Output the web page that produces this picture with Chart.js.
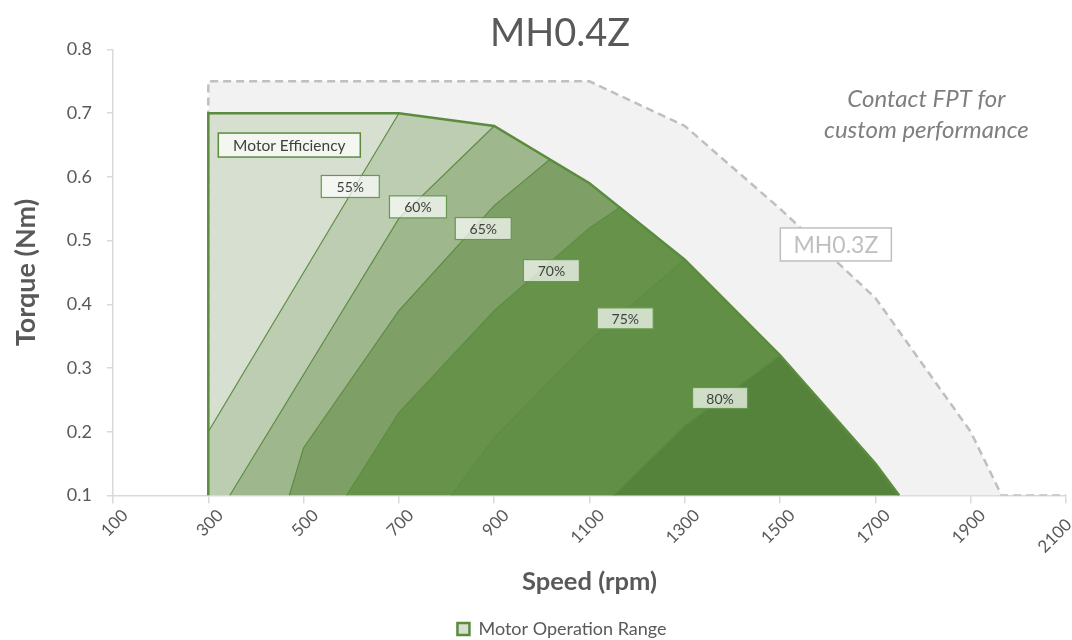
<!DOCTYPE html>
<html>
<head>
<meta charset="utf-8">
<script src="https://cdn.jsdelivr.net/npm/chart.js@4.4.0/dist/chart.umd.min.js"></script>
<style>
  html, body { margin: 0; padding: 0; background: #fff; }
</style>
</head>
<body>
<canvas id="myChart" width="1072" height="640"></canvas>
<script>
// axis ticks
const speedTicks = [100, 300, 500, 700, 900, 1100, 1300, 1500, 1700, 1900, 2100];
const torqueTicks = [0.1, 0.2, 0.3, 0.4, 0.5, 0.6, 0.7, 0.8];

// MH0.3Z envelope (grey, dashed)
const mh03Speed  = [300, 300, 1100, 1300, 1500, 1700, 1900, 1965, 2100];
const mh03Torque = [0.1, 0.75, 0.75, 0.68, 0.55, 0.41, 0.20, 0.1, 0.1];

// MH0.4Z motor operation range
const rangeSpeed  = [300, 300, 700, 900, 1100, 1300, 1500, 1700, 1750];
const rangeTorque = [0.1, 0.7, 0.7, 0.68, 0.59, 0.47, 0.32, 0.15, 0.1];

// efficiency contour lines
const eff55Speed = [300, 700];
const eff55Torque = [0.2, 0.7];
const eff60Speed = [345, 700, 900];
const eff60Torque = [0.1, 0.535, 0.68];
const eff65Speed = [470, 500, 700, 900, 1016];
const eff65Torque = [0.1, 0.175, 0.39, 0.555, 0.627];
const eff70Speed = [590, 700, 900, 1100, 1165];
const eff70Torque = [0.1, 0.23, 0.39, 0.52, 0.553];
const eff75Speed = [810, 900, 1100, 1300];
const eff75Torque = [0.1, 0.19, 0.343, 0.47];
const eff80Speed = [1150, 1300, 1500];
const eff80Torque = [0.1, 0.21, 0.32];

const FONT = 'Lato, "Open Sans", sans-serif';
const GREY_TXT = '#595959';

function pts(xs, ys) {
  return xs.map((x, i) => ({ x: x, y: ys[i] }));
}

// contour line + the rest of the envelope after it -> filled down to the axis
function band(xs, ys) {
  const last = xs[xs.length - 1];
  const tail = pts(rangeSpeed, rangeTorque).filter(p => p.x > last);
  return pts(xs, ys).concat(tail);
}

const contours = [
  ['55%', eff55Speed, eff55Torque, '#bccdb1'],
  ['60%', eff60Speed, eff60Torque, '#9eb78d'],
  ['65%', eff65Speed, eff65Torque, '#7ea066'],
  ['70%', eff70Speed, eff70Torque, '#66924a'],
  ['75%', eff75Speed, eff75Torque, '#608f45'],
  ['80%', eff80Speed, eff80Torque, '#56833b']
];

var datasets = [];

datasets.push({
  label: 'MH0.3Z',
  data: pts(mh03Speed, mh03Torque),
  borderColor: '#bfbfbf',
  borderWidth: 2.5,
  borderDash: [8, 5],
  backgroundColor: '#f2f2f2',
  fill: 'start',
  order: 30
});

datasets.push({
  label: 'range fill',
  data: pts(rangeSpeed, rangeTorque),
  borderWidth: 0,
  backgroundColor: '#d6dfd0',
  fill: 'start',
  order: 29
});

contours.forEach((c, i) => {
  datasets.push({
    label: c[0] + ' band',
    data: band(c[1], c[2]),
    borderWidth: 0,
    backgroundColor: c[3],
    fill: 'start',
    order: 28 - i
  });
  datasets.push({
    label: c[0] + ' line',
    data: pts(c[1], c[2]),
    borderColor: '#5d8d42',
    borderWidth: 1.2,
    fill: false,
    order: 5
  });
});

datasets.push({
  label: 'Motor Operation Range',
  data: pts(rangeSpeed, rangeTorque),
  borderColor: '#5b8c3e',
  borderWidth: 2.5,
  backgroundColor: '#d6dfd0',
  fill: false,
  order: 1
});

// text boxes, title, note
const notesPlugin = {
  id: 'notes',
  afterDatasetsDraw(chart) {
    const ctx = chart.ctx;
    const xs = chart.scales.x, ys = chart.scales.y;

    function box(text, sx, ty, w, h, o) {
      const cx = xs.getPixelForValue(sx), cy = ys.getPixelForValue(ty);
      ctx.save();
      ctx.fillStyle = o.fill;
      ctx.fillRect(cx - w / 2, cy - h / 2, w, h);
      ctx.strokeStyle = o.stroke;
      ctx.lineWidth = o.lw;
      ctx.strokeRect(cx - w / 2, cy - h / 2, w, h);
      ctx.fillStyle = o.color;
      ctx.font = o.font;
      ctx.textAlign = 'center';
      ctx.textBaseline = 'middle';
      ctx.fillText(text, cx, cy + 1);
      ctx.restore();
    }

    const pct = { fill: 'rgba(255,255,255,0.7)', stroke: '#68984e', lw: 1.2, color: '#404040', font: '14px ' + FONT };
    box('Motor Efficiency', 470, 0.65, 142, 24, { fill: 'rgba(255,255,255,0.7)', stroke: '#5b8c3e', lw: 1.5, color: '#404040', font: '15.5px ' + FONT });
    box('55%', 598, 0.585, 58, 22, pct);
    box('60%', 740, 0.553, 57, 22, pct);
    box('65%', 877, 0.519, 56, 22, pct);
    box('70%', 1020, 0.453, 56, 22, pct);
    box('75%', 1175, 0.378, 56, 21, pct);
    box('80%', 1374, 0.253, 55, 21, pct);
    box('MH0.3Z', 1617, 0.494, 111, 33, { fill: '#ffffff', stroke: '#bfbfbf', lw: 1.5, color: '#bfbfbf', font: '23px ' + FONT });

    ctx.save();
    ctx.textAlign = 'center';
    ctx.textBaseline = 'middle';
    ctx.fillStyle = '#7f7f7f';
    ctx.font = 'italic 24px ' + FONT;
    const nx = xs.getPixelForValue(1807);
    ctx.fillText('Contact FPT for', nx, ys.getPixelForValue(0.722));
    ctx.fillText('custom performance', nx, ys.getPixelForValue(0.673));

    ctx.fillStyle = GREY_TXT;
    ctx.font = '38px ' + FONT;
    ctx.fillText('MH0.4Z', 560, 34);
    ctx.restore();
  }
};

var ctx = document.getElementById('myChart').getContext('2d');
var myChart = new Chart(ctx, {
  type: 'line',
  data: { datasets: datasets },
  plugins: [notesPlugin],
  options: {
    responsive: false,
    animation: false,
    devicePixelRatio: 1,
    layout: { padding: { left: 58, right: 6, top: 49.5, bottom: -8 } },
    elements: { point: { radius: 0 }, line: { tension: 0 } },
    plugins: {
      filler: { drawTime: 'beforeDatasetsDraw' },
      tooltip: { enabled: false },
      title: { display: false },
      legend: {
        position: 'bottom',
        labels: {
          filter: item => item.text === 'Motor Operation Range',
          boxWidth: 12,
          boxHeight: 12,
          padding: 6,
          color: GREY_TXT,
          font: { family: FONT, size: 18 }
        }
      }
    },
    scales: {
      x: {
        type: 'linear',
        min: 100,
        max: 2100,
        z: 1,
        afterBuildTicks: s => { s.ticks = speedTicks.map(v => ({ value: v })); },
        afterFit: s => { s.height = 118.5; s.paddingLeft = 0; s.paddingRight = 0; },
        ticks: {
          minRotation: 45,
          maxRotation: 45,
          padding: 2,
          labelOffset: 12,
          color: GREY_TXT,
          font: { family: FONT, size: 17 },
          // last label pulled back inside the canvas
          callback: v => v === 2100 ? '2100   ' : String(v)
        },
        grid: { drawOnChartArea: false, drawTicks: true, tickLength: 8, color: '#d9d9d9', lineWidth: 1.5 },
        border: { color: '#d9d9d9', width: 1.5 },
        title: {
          display: true,
          text: 'Speed (rpm)',
          color: GREY_TXT,
          font: { family: FONT, size: 25.5, weight: 'bold' },
          padding: { top: 0, bottom: 17 }
        }
      },
      y: {
        min: 0.1,
        max: 0.8,
        afterBuildTicks: s => { s.ticks = torqueTicks.map(v => ({ value: v })); },
        afterFit: s => { s.width = 55; },
        ticks: {
          padding: 15,
          color: GREY_TXT,
          font: { family: FONT, size: 18 },
          callback: v => v.toFixed(1)
        },
        grid: { drawOnChartArea: false, drawTicks: true, tickLength: 6, color: '#d9d9d9', lineWidth: 1.5 },
        border: { color: '#d9d9d9', width: 1.5 },
        title: {
          display: true,
          text: 'Torque (Nm)',
          color: GREY_TXT,
          font: { family: FONT, size: 27, weight: 'bold' },
          padding: { top: -47.5, bottom: 0 }
        }
      }
    }
  }
});
</script>
</body>
</html>
